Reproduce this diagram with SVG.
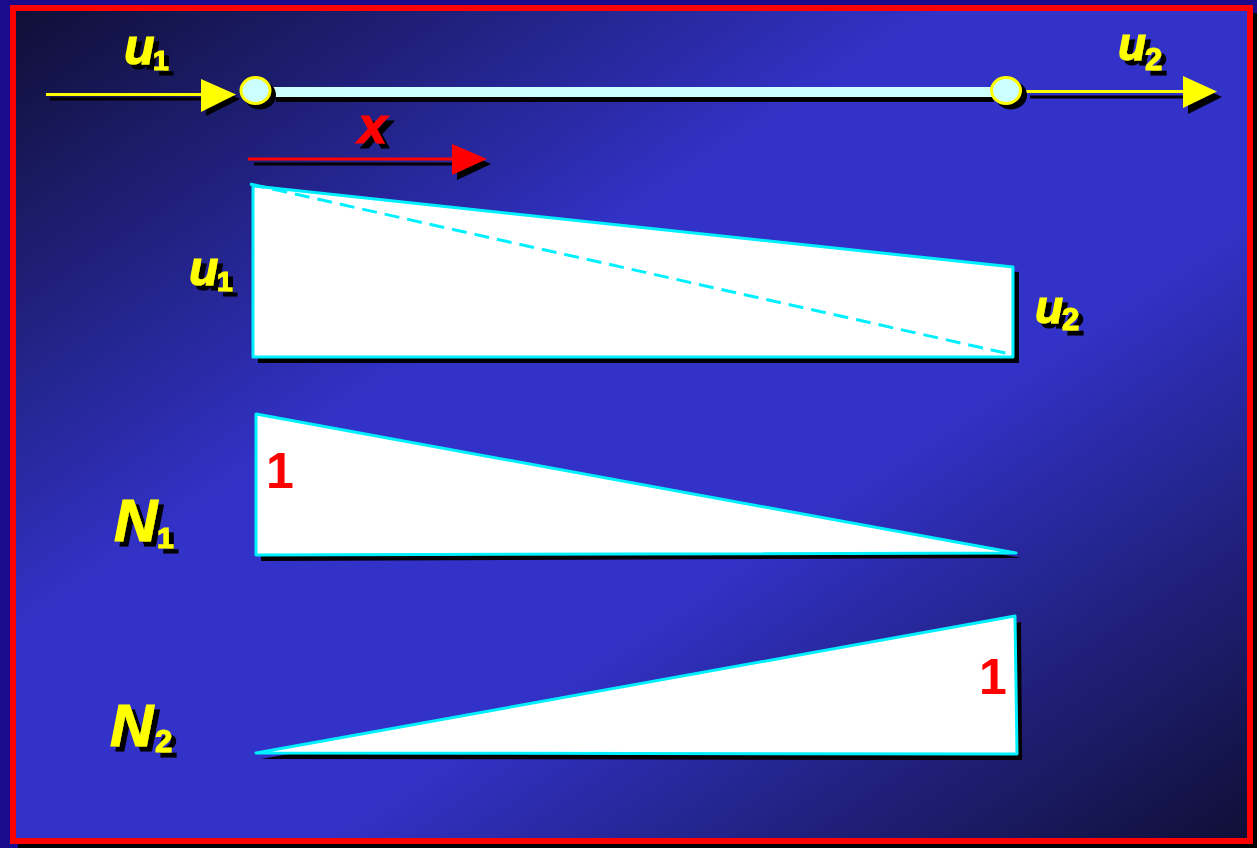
<svg xmlns="http://www.w3.org/2000/svg" width="1257" height="848" viewBox="0 0 1257 848">
<defs>
<linearGradient id="bg" x1="0" y1="0" x2="1" y2="1">
<stop offset="0" stop-color="#0f0f35"/>
<stop offset="0.38" stop-color="#3232c8"/>
<stop offset="0.62" stop-color="#3232c8"/>
<stop offset="1" stop-color="#0f0f35"/>
</linearGradient>
<filter id="ds" x="-20%" y="-20%" width="160%" height="160%">
<feFlood flood-color="#000"/>
<feComposite in2="SourceAlpha" operator="in"/>
<feOffset dx="5" dy="5" result="s"/>
<feMerge><feMergeNode in="s"/><feMergeNode in="SourceGraphic"/></feMerge>
</filter>
</defs>
<style>
.lab{font-family:"Liberation Sans",Arial,sans-serif;font-weight:bold;filter:url(#ds)}
.it{font-style:italic}
.y{fill:#ffff00;stroke:#ffff00;stroke-width:1.2}
.r{fill:#ff0000;stroke:#ff0000;stroke-width:1.2}
.shape{fill:#fff;stroke:#00f0ff;stroke-width:3;stroke-linejoin:round}
.sh{fill:#000}
.one{font-family:"Liberation Sans",Arial,sans-serif;font-weight:bold;fill:#ff0000;font-size:50px}
</style>
<rect width="1257" height="848" fill="#1a0a8c"/>
<rect x="18" y="13" width="1239" height="835" fill="#000"/>
<rect x="13" y="8" width="1237" height="833" fill="url(#bg)" stroke="#ff0000" stroke-width="6"/>

<g id="connectors">
<!-- u1 arrow -->
<line x1="50" y1="99" x2="206" y2="99" stroke="#000" stroke-width="3"/>
<polygon points="206,84 240,99 206,116" fill="#000"/>
<line x1="46" y1="94.5" x2="203" y2="94.5" stroke="#ff0" stroke-width="3"/>
<polygon points="201,79 236,94.5 201,112" fill="#ff0"/>
<!-- u2 arrow -->
<line x1="1030" y1="97" x2="1188" y2="97" stroke="#000" stroke-width="3"/>
<polygon points="1188,81 1222,97 1188,114" fill="#000"/>
<line x1="1022" y1="91.5" x2="1185" y2="91.5" stroke="#ff0" stroke-width="3"/>
<polygon points="1183,76 1217,91.5 1183,108" fill="#ff0"/>
<!-- x arrow -->
<line x1="254" y1="164" x2="458" y2="164" stroke="#000" stroke-width="3"/>
<polygon points="457,149 491,164 457,180" fill="#000"/>
<line x1="248" y1="159" x2="455" y2="159" stroke="#ff0000" stroke-width="3"/>
<polygon points="452,144 487,159 452,175" fill="#ff0000"/>
</g>

<g id="bar">
<rect x="276" y="92" width="718" height="10" fill="#000"/>
<rect x="270" y="87" width="722" height="10" fill="#ccffff"/>
</g>

<g id="node1">
<ellipse cx="260" cy="95" rx="16" ry="14.5" fill="#000"/>
<ellipse cx="255.5" cy="90.5" rx="14.5" ry="13" fill="#ccffff" stroke="#ffff00" stroke-width="3"/>
</g>
<g id="node2">
<ellipse cx="1011" cy="95" rx="16" ry="14.5" fill="#000"/>
<ellipse cx="1006" cy="90.5" rx="14.5" ry="13" fill="#ccffff" stroke="#ffff00" stroke-width="3"/>
</g>

<g id="label-u1-top" class="lab">
<text x="124" y="64" font-size="50" class="y it">u</text>
<text x="153" y="70" font-size="28" class="y">1</text>
</g>
<g id="label-u2-top" class="lab">
<text x="1118" y="60" font-size="46" class="y it">u</text>
<text x="1145" y="70" font-size="31" class="y">2</text>
</g>
<g id="label-x" class="lab">
<text x="358" y="143" font-size="52" class="r it">x</text>
</g>

<g id="displacement">
<polygon points="258,191 1019,272 1019,363 258,363" class="sh"/>
<polygon points="253,186 1013,267 1013,357 253,357" class="shape"/>
<line x1="250" y1="184" x2="1010" y2="354" stroke="#00f0ff" stroke-width="3" stroke-dasharray="15,8"/>
</g>
<g id="label-u1-left" class="lab">
<text x="189" y="285" font-size="48" class="y it">u</text>
<text x="217" y="291" font-size="28" class="y">1</text>
</g>
<g id="label-u2-right" class="lab">
<text x="1035" y="323" font-size="46" class="y it">u</text>
<text x="1062" y="330" font-size="31" class="y">2</text>
</g>

<g id="N1">
<polygon points="261,419 1021,558 261,561" class="sh"/>
<polygon points="256,414 1016,553 256,555" class="shape"/>
<text x="266" y="488" class="one">1</text>
</g>
<g id="label-N1" class="lab">
<text x="114" y="541" font-size="60" class="y it">N</text>
<text x="157" y="548" font-size="30" class="y">1</text>
</g>

<g id="N2">
<polygon points="261,759 1021,622 1022,760" class="sh"/>
<polygon points="256,753 1015,616 1017,754" class="shape"/>
<text x="979" y="694" class="one">1</text>
</g>
<g id="label-N2" class="lab">
<text x="110" y="746" font-size="60" class="y it">N</text>
<text x="155" y="752" font-size="31" class="y">2</text>
</g>
</svg>
